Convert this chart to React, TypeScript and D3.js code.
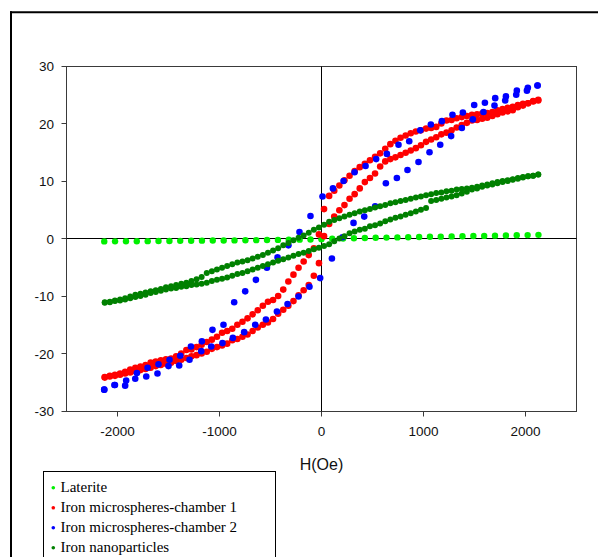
import React from "react";
import * as d3 from "d3";

// ---------- data ----------
const xTicks = [-2000, -1000, 0, 1000, 2000];
const yTicks = [-30, -20, -10, 0, 10, 20, 30];

const seriesNames = [
  "Laterite",
  "Iron microspheres-chamber 1",
  "Iron microspheres-chamber 2",
  "Iron nanoparticles",
];
const seriesColors = ["#00f000", "#ff0000", "#0000ff", "#008000"];

// Laterite
const lateriteH = [
  -2130, -2024, -1917, -1811, -1704, -1598, -1491, -1385, -1278, -1172, -1066, -959, -853, -746,
  -640, -534, -427, -321, -214, -108, -1, 105, 212, 318, 425, 531, 637, 744, 850, 957, 1063,
  1169, 1276, 1382, 1489, 1595, 1701, 1808, 1914, 2021, 2127,
];
const lateriteM = [
  -0.42, -0.41, -0.4, -0.38, -0.37, -0.35, -0.34, -0.32, -0.31, -0.29, -0.27, -0.26, -0.24, -0.22,
  -0.2, -0.18, -0.16, -0.14, -0.11, -0.08, -0.04, 0.05, 0.1, 0.14, 0.17, 0.21, 0.24, 0.28, 0.31,
  0.35, 0.38, 0.41, 0.45, 0.48, 0.51, 0.54, 0.58, 0.61, 0.64, 0.68, 0.72,
];

// shared field grid for the dense loops (chamber 1 and nanoparticles)
const fieldGrid = [
  -2125, -2075, -2025, -1975, -1925, -1875, -1825, -1775, -1725, -1675, -1625, -1575, -1525,
  -1475, -1425, -1375, -1325, -1275, -1225, -1175, -1125, -1075, -1025, -975, -925, -875, -825,
  -775, -725, -675, -625, -575, -525, -475, -425, -375, -325, -275, -225, -175, -125, -75, -25,
  25, 75, 125, 175, 225, 275, 325, 375, 425, 475, 525, 575, 625, 675, 725, 775, 825, 875, 925,
  975, 1025, 1075, 1125, 1175, 1225, 1275, 1325, 1375, 1425, 1475, 1525, 1575, 1625, 1675, 1725,
  1775, 1825, 1875, 1925, 1975, 2025, 2075, 2125,
];

// chamber 1: descending-field branch, values on fieldGrid
const chamber1Down = [
  -24.0, -23.8, -23.6, -23.4, -23.1, -22.7, -22.4, -22.2, -21.9, -21.5, -21.3, -21.1, -20.9,
  -20.8, -20.4, -19.9, -19.3, -19.2, -18.8, -18.4, -17.9, -17.5, -17.0, -16.3, -16.0, -15.6,
  -14.9, -14.4, -13.8, -13.1, -12.4, -11.6, -10.9, -10.6, -9.9, -8.8, -7.4, -6.2, -5.0, -3.9,
  -2.8, -1.6, 0.8, 5.2, 7.5, 8.4, 9.3, 10.2, 11.0, 11.8, 12.5, 13.1, 13.7, 14.3, 14.9, 15.7, 16.5,
  17.1, 17.6, 18.0, 18.4, 18.7, 18.9, 19.2, 19.3, 19.5, 20.1, 20.6, 20.7, 21.0, 21.2, 21.4, 21.6,
  21.7, 21.8, 21.9, 22.1, 22.4, 22.6, 22.8, 23.0, 23.3, 23.5, 23.6, 24.0, 24.2,
];
// chamber 1: ascending-field branch
const chamber1Up = [
  -24.1, -23.9, -23.8, -23.6, -23.4, -23.2, -23.0, -22.8, -22.6, -22.4, -22.1, -21.9, -21.7,
  -21.5, -21.2, -21.0, -20.7, -20.4, -20.2, -19.9, -19.6, -19.1, -18.8, -18.5, -18.2, -17.6,
  -17.4, -17.0, -16.6, -16.0, -15.4, -14.9, -14.5, -13.9, -13.0, -12.3, -11.6, -10.8, -9.8, -8.9,
  -8.0, -6.4, -4.2, 0.5, 2.6, 3.9, 5.0, 5.9, 7.0, 7.8, 8.8, 9.9, 10.6, 11.4, 12.6, 13.5, 13.9,
  14.2, 14.6, 15.0, 15.4, 15.8, 16.3, 16.9, 17.3, 17.7, 18.2, 18.5, 18.9, 19.4, 19.8, 20.2, 20.6,
  20.7, 20.9, 21.1, 21.4, 21.7, 22.0, 22.2, 22.4, 22.9, 23.2, 23.6, 23.9, 24.1,
];

// chamber 2 (sparser)
const chamber2DownH = [
  2118, 2023, 1915, 1808, 1703, 1602, 1497, 1386, 1284, 1180, 1072, 968, 860, 755, 641, 536, 432,
  324, 216, 112, 10, -108, -216, -324, -431, -535, -643, -748, -856, -961, -1069, -1173, -1280,
  -1385, -1490, -1598, -1705, -1810, -1915, -2030, -2130,
];
const chamber2DownM = [
  26.7, 26.3, 25.8, 24.8, 24.5, 23.7, 23.3, 22.0, 21.6, 20.5, 19.9, 18.9, 17.0, 16.4, 14.8, 13.9,
  12.7, 11.6, 10.1, 8.8, 7.4, 4.0, 1.2, -1.1, -3.2, -5.0, -7.1, -9.1, -11.0, -14.9, -15.8, -17.8,
  -18.7, -20.3, -21.0, -21.8, -22.4, -23.3, -24.6, -25.4, -26.2,
];
const chamber2UpH = [
  -2130, -2025, -1925, -1826, -1718, -1608, -1500, -1395, -1294, -1179, -1081, -971, -869, -758,
  -650, -545, -437, -333, -225, -118, -13, 102, 206, 314, 419, 526, 631, 739, 843, 951, 1059,
  1164, 1271, 1376, 1484, 1588, 1696, 1801, 1909, 2014, 2118,
];
const chamber2UpM = [
  -26.2, -25.4, -25.5, -24.3, -23.9, -23.4, -22.1, -22.0, -21.0, -19.5, -18.7, -18.1, -17.2,
  -16.2, -14.9, -14.0, -12.6, -11.3, -10.0, -8.3, -6.8, -3.4, 0.3, 2.8, 3.9, 5.7, 9.7, 10.6, 12.0,
  13.4, 15.1, 16.4, 17.9, 19.3, 20.8, 22.1, 23.2, 24.1, 25.1, 25.8, 26.7,
];

// nanoparticles, values on fieldGrid
const nanoDown = [
  -11.0, -10.9, -10.7, -10.5, -10.3, -10.0, -9.7, -9.5, -9.3, -9.1, -8.9, -8.7, -8.4, -8.2, -8.0,
  -7.8, -7.6, -7.3, -7.0, -6.6, -5.9, -5.6, -5.3, -5.0, -4.7, -4.4, -4.1, -3.9, -3.7, -3.4, -3.1,
  -2.8, -2.4, -2.0, -1.6, -1.1, -0.7, -0.2, 0.2, 0.6, 1.1, 1.6, 2.0, 2.5, 3.0, 3.3, 3.6, 3.9, 4.2,
  4.5, 4.8, 5.0, 5.2, 5.5, 5.7, 5.9, 6.2, 6.4, 6.6, 6.8, 7.0, 7.2, 7.4, 7.6, 7.8, 8.0, 8.1, 8.3,
  8.4, 8.6, 8.7, 8.8, 8.9, 9.1, 9.3, 9.5, 9.7, 9.9, 10.1, 10.2, 10.4, 10.6, 10.8, 10.9, 11.0, 11.2,
];
const nanoUp = [
  -11.1, -11.0, -10.8, -10.7, -10.5, -10.3, -10.1, -9.9, -9.7, -9.4, -9.2, -9.0, -8.8, -8.6,
  -8.5, -8.3, -8.2, -8.0, -7.9, -7.8, -7.6, -7.3, -7.1, -6.9, -6.7, -6.4, -6.1, -5.9, -5.6, -5.3,
  -5.0, -4.7, -4.4, -4.1, -3.8, -3.5, -3.2, -2.9, -2.6, -2.4, -2.1, -1.8, -1.5, -1.2, -0.9, -0.4,
  0.1, 0.5, 1.0, 1.3, 1.6, 1.8, 2.2, 2.4, 2.7, 3.1, 3.4, 3.7, 3.9, 4.2, 4.5, 4.8, 5.1, 5.4, 6.6,
  6.8, 7.0, 7.2, 7.4, 7.6, 7.9, 8.2, 8.6, 8.8, 9.1, 9.3, 9.5, 9.7, 9.9, 10.1, 10.3, 10.5, 10.7,
  10.9, 11.0, 11.2,
];

// ---------- chart ----------
type Pt = { h: number; m: number };
const zipPts = (hs: number[], ms: number[]): Pt[] => hs.map((h, i) => ({ h, m: ms[i] }));

export default function App() {
  const W = 598;
  const H = 557;
  const x = d3.scaleLinear().domain([-2500, 2500]).range([66.5, 576.5]);
  const y = d3.scaleLinear().domain([-30, 30]).range([411.5, 66.5]);

  const series: { pts: Pt[]; r: number }[] = [
    { pts: zipPts(lateriteH, lateriteM), r: 3.2 },
    { pts: [...zipPts(fieldGrid, chamber1Down), ...zipPts(fieldGrid, chamber1Up)], r: 3.3 },
    { pts: [...zipPts(chamber2DownH, chamber2DownM), ...zipPts(chamber2UpH, chamber2UpM)], r: 3.3 },
    { pts: [...zipPts(fieldGrid, nanoDown), ...zipPts(fieldGrid, nanoUp)], r: 3.0 },
  ];

  const sans = "'Liberation Sans', Arial, sans-serif";
  const serif = "'Liberation Serif', 'Times New Roman', serif";
  const [x0, x1] = x.range();
  const [yb, yt] = y.range();
  const zeroY = Math.round(y(0)) - 0.5;

  return (
    <div style={{ position: "absolute", left: 0, top: 0, width: W, height: H, background: "#fff" }}>
      <svg width={W} height={H} style={{ display: "block" }}>
        <rect x={0} y={0} width={W} height={H} fill="#fff" />
        {/* outer frame */}
        <line x1={10} x2={W} y1={12.3} y2={12.3} stroke="#000" strokeWidth={2} />
        <line x1={11} x2={11} y1={11.3} y2={H} stroke="#000" strokeWidth={2} />

        {/* plot box */}
        <rect x={x0} y={yt} width={x1 - x0} height={yb - yt} fill="none" stroke="#3a3a3a" strokeWidth={1} />
        {/* zero lines */}
        <line x1={x(0)} x2={x(0)} y1={yt} y2={yb} stroke="#000" strokeWidth={1} />
        <line x1={x0} x2={x1} y1={zeroY} y2={zeroY} stroke="#000" strokeWidth={1} />

        {/* y ticks */}
        {yTicks.map((t) => (
          <g key={"y" + t}>
            <line x1={x0 - 5} x2={x0} y1={Math.round(y(t)) - 0.5} y2={Math.round(y(t)) - 0.5} stroke="#3a3a3a" />
            <text x={54} y={y(t) + 4.6} textAnchor="end" fontFamily={sans} fontSize={13.5} fill="#111">
              {t}
            </text>
          </g>
        ))}
        {/* x ticks */}
        {xTicks.map((t) => (
          <g key={"x" + t}>
            <line x1={x(t)} x2={x(t)} y1={yb} y2={yb + 5} stroke="#3a3a3a" />
            <text x={x(t)} y={436} textAnchor="middle" fontFamily={sans} fontSize={13.5} fill="#111">
              {t}
            </text>
          </g>
        ))}
        <text x={x(0)} y={469.5} textAnchor="middle" fontFamily={sans} fontSize={16} fill="#111">
          H(Oe)
        </text>

        {/* points */}
        {series.map((s, si) => (
          <g key={"s" + si} fill={seriesColors[si]}>
            {s.pts.map((p, i) => (
              <circle key={i} cx={x(p.h)} cy={y(p.m)} r={s.r} />
            ))}
          </g>
        ))}

        {/* legend */}
        <rect x={43.5} y={471.5} width={232} height={120} fill="#fff" stroke="#000" strokeWidth={1} />
        {seriesNames.map((n, i) => (
          <g key={"l" + i}>
            <circle cx={53.3} cy={487.8 + i * 20} r={1.8} fill={seriesColors[i]} />
            <text x={60.5} y={492.3 + i * 20} fontFamily={serif} fontSize={15} fill="#000">
              {n}
            </text>
          </g>
        ))}
      </svg>
    </div>
  );
}
